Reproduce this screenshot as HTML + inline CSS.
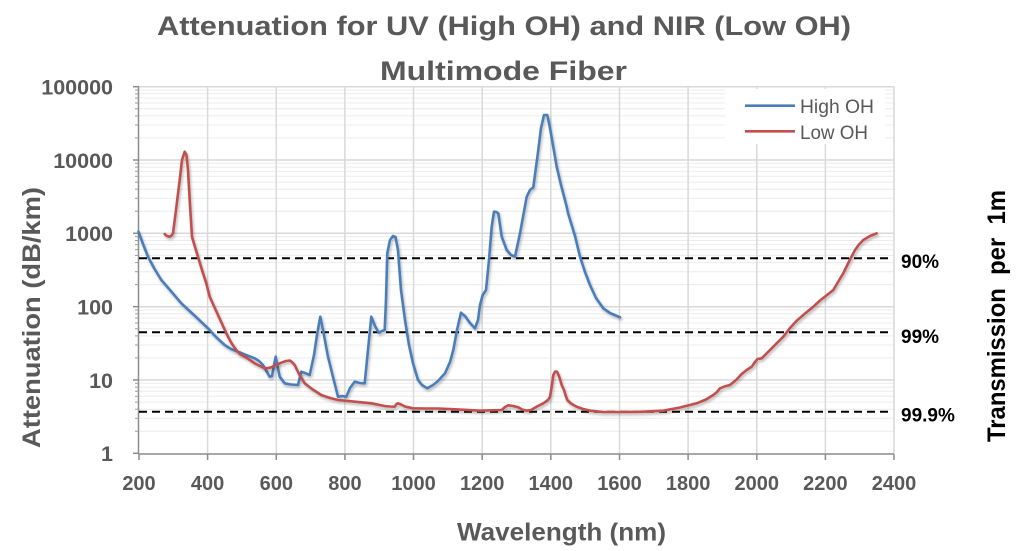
<!DOCTYPE html>
<html>
<head>
<meta charset="utf-8">
<style>
  html,body{margin:0;padding:0;background:#fff;}
  svg{display:block;}
  .t{font-family:"Liberation Sans",sans-serif;}
</style>
</head>
<body>
<svg width="1024" height="551" viewBox="0 0 1024 551" xmlns="http://www.w3.org/2000/svg">
  <defs>
    <filter id="sh" x="-5%" y="-5%" width="110%" height="115%">
      <feDropShadow dx="1.2" dy="2" stdDeviation="1.3" flood-color="#000" flood-opacity="0.28"/>
    </filter>
  </defs>
  <rect x="0" y="0" width="1024" height="551" fill="#ffffff"/>

  <!-- minor horizontal gridlines -->
  <g stroke="#ececec" stroke-width="1">
    <line x1="139" x2="894" y1="431.2" y2="431.2"/><line x1="139" x2="894" y1="418.3" y2="418.3"/><line x1="139" x2="894" y1="409.2" y2="409.2"/><line x1="139" x2="894" y1="402.1" y2="402.1"/><line x1="139" x2="894" y1="396.3" y2="396.3"/><line x1="139" x2="894" y1="391.3" y2="391.3"/><line x1="139" x2="894" y1="387.1" y2="387.1"/><line x1="139" x2="894" y1="383.3" y2="383.3"/>
    <line x1="139" x2="894" y1="357.9" y2="357.9"/><line x1="139" x2="894" y1="345.0" y2="345.0"/><line x1="139" x2="894" y1="335.9" y2="335.9"/><line x1="139" x2="894" y1="328.8" y2="328.8"/><line x1="139" x2="894" y1="323.0" y2="323.0"/><line x1="139" x2="894" y1="318.0" y2="318.0"/><line x1="139" x2="894" y1="313.8" y2="313.8"/><line x1="139" x2="894" y1="310.0" y2="310.0"/>
    <line x1="139" x2="894" y1="284.6" y2="284.6"/><line x1="139" x2="894" y1="271.7" y2="271.7"/><line x1="139" x2="894" y1="262.6" y2="262.6"/><line x1="139" x2="894" y1="255.4" y2="255.4"/><line x1="139" x2="894" y1="249.6" y2="249.6"/><line x1="139" x2="894" y1="244.7" y2="244.7"/><line x1="139" x2="894" y1="240.5" y2="240.5"/><line x1="139" x2="894" y1="236.7" y2="236.7"/>
    <line x1="139" x2="894" y1="211.2" y2="211.2"/><line x1="139" x2="894" y1="198.3" y2="198.3"/><line x1="139" x2="894" y1="189.2" y2="189.2"/><line x1="139" x2="894" y1="182.1" y2="182.1"/><line x1="139" x2="894" y1="176.3" y2="176.3"/><line x1="139" x2="894" y1="171.3" y2="171.3"/><line x1="139" x2="894" y1="167.1" y2="167.1"/><line x1="139" x2="894" y1="163.3" y2="163.3"/>
    <line x1="139" x2="894" y1="137.9" y2="137.9"/><line x1="139" x2="894" y1="125.0" y2="125.0"/><line x1="139" x2="894" y1="115.9" y2="115.9"/><line x1="139" x2="894" y1="108.8" y2="108.8"/><line x1="139" x2="894" y1="103.0" y2="103.0"/><line x1="139" x2="894" y1="98.0" y2="98.0"/><line x1="139" x2="894" y1="93.8" y2="93.8"/><line x1="139" x2="894" y1="90.0" y2="90.0"/>
  </g>

  <!-- major horizontal gridlines -->
  <g stroke="#d9d9d9" stroke-width="1.5">
    <line x1="139" x2="894" y1="86.7" y2="86.7"/>
    <line x1="139" x2="894" y1="160.0" y2="160.0"/>
    <line x1="139" x2="894" y1="233.3" y2="233.3"/>
    <line x1="139" x2="894" y1="306.7" y2="306.7"/>
    <line x1="139" x2="894" y1="380.0" y2="380.0"/>
  </g>

  <!-- vertical gridlines -->
  <g stroke="#d9d9d9" stroke-width="1.5">
    <line x1="207.6" x2="207.6" y1="86.7" y2="453.3"/>
    <line x1="276.3" x2="276.3" y1="86.7" y2="453.3"/>
    <line x1="344.9" x2="344.9" y1="86.7" y2="453.3"/>
    <line x1="413.5" x2="413.5" y1="86.7" y2="453.3"/>
    <line x1="482.2" x2="482.2" y1="86.7" y2="453.3"/>
    <line x1="550.8" x2="550.8" y1="86.7" y2="453.3"/>
    <line x1="619.5" x2="619.5" y1="86.7" y2="453.3"/>
    <line x1="688.1" x2="688.1" y1="86.7" y2="453.3"/>
    <line x1="756.8" x2="756.8" y1="86.7" y2="453.3"/>
    <line x1="825.4" x2="825.4" y1="86.7" y2="453.3"/>
    <line x1="894" x2="894" y1="86.7" y2="453.3"/>
  </g>

  <!-- legend box (hides gridlines) -->
  <rect x="725" y="89" width="160" height="55" fill="#ffffff"/>

  <!-- axes -->
  <g stroke="#8c8c8c" stroke-width="1.5">
    <line x1="138.5" x2="138.5" y1="86.7" y2="454"/>
    <line x1="138.5" x2="894" y1="454" y2="454"/>
    <line x1="139" x2="139" y1="454" y2="460"/>
    <line x1="207.6" x2="207.6" y1="454" y2="460"/>
    <line x1="276.3" x2="276.3" y1="454" y2="460"/>
    <line x1="344.9" x2="344.9" y1="454" y2="460"/>
    <line x1="413.5" x2="413.5" y1="454" y2="460"/>
    <line x1="482.2" x2="482.2" y1="454" y2="460"/>
    <line x1="550.8" x2="550.8" y1="454" y2="460"/>
    <line x1="619.5" x2="619.5" y1="454" y2="460"/>
    <line x1="688.1" x2="688.1" y1="454" y2="460"/>
    <line x1="756.8" x2="756.8" y1="454" y2="460"/>
    <line x1="825.4" x2="825.4" y1="454" y2="460"/>
    <line x1="894" x2="894" y1="454" y2="460"/>
    <line x1="133" x2="139" y1="86.7" y2="86.7"/>
    <line x1="133" x2="139" y1="160.0" y2="160.0"/>
    <line x1="133" x2="139" y1="233.3" y2="233.3"/>
    <line x1="133" x2="139" y1="306.7" y2="306.7"/>
    <line x1="133" x2="139" y1="380.0" y2="380.0"/>
    <line x1="133" x2="139" y1="453.3" y2="453.3"/>
  </g>
  <g stroke="#9a9a9a" stroke-width="1">
    <line x1="135" x2="139" y1="431.2" y2="431.2"/><line x1="135" x2="139" y1="418.3" y2="418.3"/><line x1="135" x2="139" y1="409.2" y2="409.2"/><line x1="135" x2="139" y1="402.1" y2="402.1"/><line x1="135" x2="139" y1="396.3" y2="396.3"/><line x1="135" x2="139" y1="391.3" y2="391.3"/><line x1="135" x2="139" y1="387.1" y2="387.1"/><line x1="135" x2="139" y1="383.3" y2="383.3"/>
    <line x1="135" x2="139" y1="357.9" y2="357.9"/><line x1="135" x2="139" y1="345.0" y2="345.0"/><line x1="135" x2="139" y1="335.9" y2="335.9"/><line x1="135" x2="139" y1="328.8" y2="328.8"/><line x1="135" x2="139" y1="323.0" y2="323.0"/><line x1="135" x2="139" y1="318.0" y2="318.0"/><line x1="135" x2="139" y1="313.8" y2="313.8"/><line x1="135" x2="139" y1="310.0" y2="310.0"/>
    <line x1="135" x2="139" y1="284.6" y2="284.6"/><line x1="135" x2="139" y1="271.7" y2="271.7"/><line x1="135" x2="139" y1="262.6" y2="262.6"/><line x1="135" x2="139" y1="255.4" y2="255.4"/><line x1="135" x2="139" y1="249.6" y2="249.6"/><line x1="135" x2="139" y1="244.7" y2="244.7"/><line x1="135" x2="139" y1="240.5" y2="240.5"/><line x1="135" x2="139" y1="236.7" y2="236.7"/>
    <line x1="135" x2="139" y1="211.2" y2="211.2"/><line x1="135" x2="139" y1="198.3" y2="198.3"/><line x1="135" x2="139" y1="189.2" y2="189.2"/><line x1="135" x2="139" y1="182.1" y2="182.1"/><line x1="135" x2="139" y1="176.3" y2="176.3"/><line x1="135" x2="139" y1="171.3" y2="171.3"/><line x1="135" x2="139" y1="167.1" y2="167.1"/><line x1="135" x2="139" y1="163.3" y2="163.3"/>
    <line x1="135" x2="139" y1="137.9" y2="137.9"/><line x1="135" x2="139" y1="125.0" y2="125.0"/><line x1="135" x2="139" y1="115.9" y2="115.9"/><line x1="135" x2="139" y1="108.8" y2="108.8"/><line x1="135" x2="139" y1="103.0" y2="103.0"/><line x1="135" x2="139" y1="98.0" y2="98.0"/><line x1="135" x2="139" y1="93.8" y2="93.8"/><line x1="135" x2="139" y1="90.0" y2="90.0"/>
  </g>

  <!-- dashed reference lines -->
  <g stroke="#000" stroke-width="2" stroke-dasharray="8 5">
    <line x1="139" x2="893" y1="258.3" y2="258.3"/>
    <line x1="139" x2="893" y1="332.3" y2="332.3"/>
    <line x1="139" x2="893" y1="411.7" y2="411.7"/>
  </g>

  <!-- High OH (blue) -->
  <polyline fill="none" stroke="#4a7ebb" stroke-width="2.6" stroke-linejoin="round" stroke-linecap="round" filter="url(#sh)"
    points="138.5,231.7 143,244 148,256.7 154,268 161.3,280 170,290 181.3,303.3 195,316 208,328.3 216,337 224.7,345 231,349 238,351.7 246,355 254.7,358.3 259,361 263,365 267,372 269.7,376.7 272,376 274,365 275.7,356.7 277.5,366 279.7,376.7 284.7,383.3 291,384.5 298,385 301.3,371.7 305,373 309.7,375 314,355 317,335 320.3,316.7 323,330 328,356.7 333,377 338,396.7 342,396 346.3,396.7 350,388 354.7,381.7 360,383 364.7,383.3 368,350 371.3,316.7 375,326 378.7,332.7 382,331 384.7,330 386,300 387.3,253.3 390,240 393,236 395.5,237 398,250 401,290 405,320 409,345 413,363.3 418,380 422,385 427.3,388.3 433,385 438,381 445,373.3 450,362 453.3,350 457,330 461,312.7 465,316 470,323 475,328.3 478,320 480,305 482.7,295 486,290 489,260 491.7,226.7 494,211.7 496.5,212 498.3,213.3 501.7,236.7 506.7,250 511,255 515,256.7 520,233.3 526.7,196.7 530,190 533.3,187.3 538.3,150 541,128 544,115 547.3,115 550,128 556.7,166.7 561,185 566.7,206.7 568,213 575,236 580,256.7 585,272 590,285 596,298 603.3,308.3 610,313 620,317.3"/>

  <!-- Low OH (red) -->
  <polyline fill="none" stroke="#c0504d" stroke-width="2.6" stroke-linejoin="round" stroke-linecap="round" filter="url(#sh)"
    points="164.7,234 167,236 169.7,236.7 171.5,235.5 173,233.3 176,210 179.7,180 182,160 184.7,151.7 186.5,155 188,170 190,205 192,236.7 195,247 198,256.7 202,270 206.3,283.3 209.7,296.7 213,304 218,315 223,326 228,336.7 232,344 236.3,350 240,354 244.7,356.7 250,360 254.7,363.3 260,366 264.7,368.3 268,368 271.3,367.3 276,365 281.3,362.7 286,361 289.7,360.5 292,362 294.7,365 299,374 304.7,383.3 312,389 321.3,395 330,398 338,400 355,401.7 371.3,403.3 384.7,406 390,406.5 394.7,406.7 396.5,404 398,403.3 401,404.5 405,406.5 413,408.3 425,408.5 438,408.5 455,409.3 480,410.7 501.7,410 505,407 508.3,405.3 513,406 518.3,407.3 522,409.5 526.7,410.7 531,410 537,406.5 543.3,403.3 548,400 550,396.7 551.5,388 553.3,375 555,371.7 557,371.7 559,376 561.7,385 564,390 565.5,395 567.3,400 571,403.5 576.7,406.7 583,409 590,410.7 603.3,412 620,412 640,411.8 663.3,410.7 680,407.5 696.7,403.3 706,399.5 713.3,395 717,392 720,388.3 725,386.3 730,385 736,380 741.7,374 746,370.5 751.7,366.7 755,362 757.5,359 761.7,358.3 770,350 783.3,336.7 790,328 796.7,320.7 805,313.5 813.3,306.7 820,300.5 828.3,294 833.3,290 838,282 843.3,273.3 849,261.5 855,250 859,244.5 863.3,240 870,236 876.7,233.3"/>

  <!-- legend -->
  <line x1="745" x2="795" y1="105.7" y2="105.7" stroke="#4a7ebb" stroke-width="2.6"/>
  <line x1="745" x2="795" y1="131.3" y2="131.3" stroke="#c0504d" stroke-width="2.6"/>
  <text class="t" x="800" y="113" font-size="19.5" fill="#595959" textLength="74" lengthAdjust="spacingAndGlyphs">High OH</text>
  <text class="t" x="800" y="139" font-size="19.5" fill="#595959" textLength="68" lengthAdjust="spacingAndGlyphs">Low OH</text>

  <!-- title -->
  <text class="t" x="157" y="35" font-size="27" font-weight="bold" fill="#595959" textLength="694" lengthAdjust="spacingAndGlyphs">Attenuation for UV (High OH) and NIR (Low OH)</text>
  <text class="t" x="380" y="80" font-size="27" font-weight="bold" fill="#595959" textLength="247" lengthAdjust="spacingAndGlyphs">Multimode Fiber</text>

  <!-- y tick labels -->
  <g class="t" font-size="21.5" font-weight="bold" fill="#595959" text-anchor="end">
    <text x="113" y="94.5">100000</text>
    <text x="113" y="168">10000</text>
    <text x="113" y="241">1000</text>
    <text x="113" y="314.5">100</text>
    <text x="113" y="388">10</text>
    <text x="113" y="461">1</text>
  </g>

  <!-- x tick labels -->
  <g class="t" font-size="20" font-weight="bold" fill="#595959" text-anchor="middle">
    <text x="139" y="490">200</text>
    <text x="207.6" y="490">400</text>
    <text x="276.3" y="490">600</text>
    <text x="344.9" y="490">800</text>
    <text x="413.5" y="490">1000</text>
    <text x="482.2" y="490">1200</text>
    <text x="550.8" y="490">1400</text>
    <text x="619.5" y="490">1600</text>
    <text x="688.1" y="490">1800</text>
    <text x="756.8" y="490">2000</text>
    <text x="825.4" y="490">2200</text>
    <text x="894" y="490">2400</text>
  </g>

  <!-- axis titles -->
  <text class="t" x="457" y="540.7" font-size="25" font-weight="bold" fill="#595959" textLength="209" lengthAdjust="spacingAndGlyphs">Wavelength (nm)</text>
  <text class="t" transform="translate(40,448) rotate(-90)" x="0" y="0" font-size="25" font-weight="bold" fill="#595959" textLength="261" lengthAdjust="spacingAndGlyphs">Attenuation (dB/km)</text>

  <!-- right labels -->
  <g class="t" font-size="19" font-weight="bold" fill="#000">
    <text x="901" y="268">90%</text>
    <text x="901" y="343">99%</text>
    <text x="901" y="421.5">99.9%</text>
  </g>
  <text class="t" transform="translate(1005,442) rotate(-90)" x="0" y="0" font-size="25" font-weight="bold" fill="#000" textLength="252" lengthAdjust="spacingAndGlyphs" xml:space="preserve">Transmission  per  1m</text>
</svg>
</body>
</html>
